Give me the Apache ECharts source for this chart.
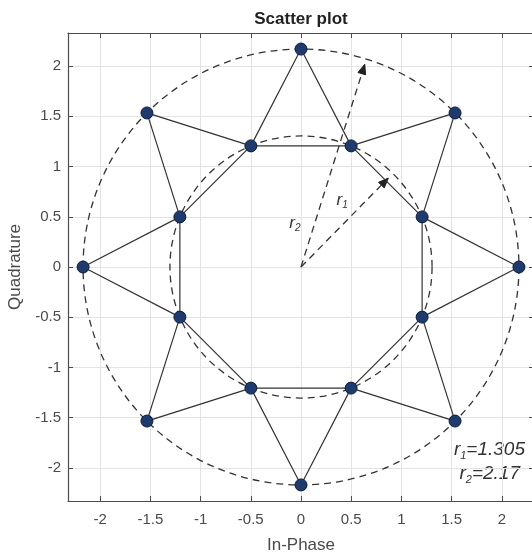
<!DOCTYPE html>
<html>
<head>
<meta charset="utf-8">
<script src="https://cdn.jsdelivr.net/npm/echarts@6/dist/echarts.min.js"></script>
<style>
  html, body { margin: 0; padding: 0; background: #fff; }
  #chart { width: 532px; height: 555px; }
</style>
</head>
<body>
<div id="chart"></div>
<script>
// 8+8 APSK constellation: outer ring points (0°, 45°, ...) and inner ring points (22.5°, 67.5°, ...)
const outerRing = [[2.17, 0], [1.534, 1.534], [0, 2.17], [-1.534, 1.534], [-2.17, 0], [-1.534, -1.534], [0, -2.17], [1.534, -1.534]];
const innerRing = [[1.206, 0.499], [0.499, 1.206], [-0.499, 1.206], [-1.206, 0.499], [-1.206, -0.499], [-0.499, -1.206], [0.499, -1.206], [1.206, -0.499]];
// ring radii r1, r2
const ringRadii = [1.305, 2.17];
// end points of the radius arrows (r1, r2)
const radiusArrows = [[0.87, 0.886], [0.635, 2.02]];
// positions of the r1 / r2 tags next to the arrows
const radiusTags = [[0.41, 0.66], [-0.06, 0.44]];
const xRange = [-2.32, 2.32];
const yRange = [-2.33, 2.33];

const FONT = '"Liberation Sans", Arial, Helvetica, sans-serif';
const AXIS_COLOR = '#4d4d4d';
const LABEL_COLOR = '#4a4a4a';
const GRID_COLOR = '#e3e3e3';

// star outline: outer, inner, outer, inner ... closed
const starPath = [];
for (let i = 0; i < outerRing.length; i++) {
  starPath.push(outerRing[i], innerRing[i]);
}
starPath.push(outerRing[0]);
const innerPath = innerRing.concat([innerRing[0]]);

const halfStep = v => Math.abs(v * 2 - Math.round(v * 2)) < 1e-6;
const tickFmt = v => halfStep(v) ? String(Math.round(v * 2) / 2) : '';

function mainAxis(range, name, isX) {
  return {
    type: 'value',
    min: range[0],
    max: range[1],
    splitNumber: 9,
    position: isX ? 'bottom' : 'left',
    name: name,
    nameLocation: 'middle',
    nameGap: isX ? 36 : 42,
    nameTextStyle: { fontFamily: FONT, fontSize: 17, color: LABEL_COLOR },
    axisLine: { show: true, onZero: false, lineStyle: { color: AXIS_COLOR, width: 1.2 } },
    axisTick: { show: true, inside: true, length: 5, lineStyle: { color: AXIS_COLOR } },
    axisLabel: { fontFamily: FONT, fontSize: 15, color: LABEL_COLOR, margin: isX ? 11 : 7, formatter: tickFmt },
    splitLine: { show: true, lineStyle: { color: GRID_COLOR, width: 1 } }
  };
}
function boxAxis(range, isX) {
  return {
    type: 'value',
    min: range[0],
    max: range[1],
    splitNumber: 9,
    position: isX ? 'top' : 'right',
    axisLine: { show: true, onZero: false, lineStyle: { color: AXIS_COLOR, width: 1.2 } },
    axisTick: { show: true, inside: true, length: 5, lineStyle: { color: AXIS_COLOR } },
    axisLabel: { show: false },
    splitLine: { show: false }
  };
}

const chart = echarts.init(document.getElementById('chart'), null, { renderer: 'canvas' });

const subRich = {
  r: { fontFamily: FONT, fontStyle: 'italic', fontSize: 19, lineHeight: 22, fill: '#333' },
  s: { fontFamily: FONT, fontStyle: 'italic', fontSize: 11, lineHeight: 12, verticalAlign: 'bottom', fill: '#333' }
};

chart.setOption({
  animation: false,
  backgroundColor: '#fff',
  grid: { left: 68, top: 33, width: 466, height: 468, containLabel: false, outerBoundsMode: 'none' },
  xAxis: [mainAxis(xRange, 'In-Phase', true), boxAxis(xRange, true)],
  yAxis: [mainAxis(yRange, 'Quadrature', false), boxAxis(yRange, false)],
  graphic: [
    {
      type: 'text', x: 301, y: 19,
      style: { text: 'Scatter plot', font: 'bold 17px ' + FONT, fill: '#222', align: 'center', verticalAlign: 'middle' }
    },
    {
      type: 'text', x: 525, y: 450,
      style: { text: '{r|r}{s|1}{r|=' + ringRadii[0] + '}', rich: subRich, align: 'right', verticalAlign: 'middle' }
    },
    {
      type: 'text', x: 520, y: 474,
      style: { text: '{r|r}{s|2}{r|=' + ringRadii[1] + '}', rich: subRich, align: 'right', verticalAlign: 'middle' }
    }
  ],
  series: [
    {
      // dashed reference circles of radius r1 and r2
      type: 'custom',
      silent: true,
      z: 1,
      data: ringRadii.map(r => [0, 0, r]),
      encode: { x: 0, y: 1 },
      renderItem: (params, api) => {
        const c = api.coord([api.value(0), api.value(1)]);
        const r = api.size([api.value(2), 0])[0];
        return {
          type: 'circle',
          shape: { cx: c[0], cy: c[1], r: r },
          style: { fill: 'none', stroke: '#333', lineWidth: 1.3, lineDash: [7, 5] }
        };
      }
    },
    {
      // dashed radius arrows
      type: 'custom',
      silent: true,
      z: 1,
      data: radiusArrows,
      renderItem: (params, api) => {
        const o = api.coord([0, 0]);
        const e = api.coord([api.value(0), api.value(1)]);
        const dx = e[0] - o[0], dy = e[1] - o[1];
        const L = Math.hypot(dx, dy);
        const ux = dx / L, uy = dy / L;
        const hl = 10, hw = 4;
        const bx = e[0] - ux * hl, by = e[1] - uy * hl;
        return {
          type: 'group',
          children: [
            { type: 'line', shape: { x1: o[0], y1: o[1], x2: bx, y2: by },
              style: { stroke: '#333', lineWidth: 1.3, lineDash: [7, 5] } },
            { type: 'polygon', shape: { points: [[e[0], e[1]], [bx - uy * hw, by + ux * hw], [bx + uy * hw, by - ux * hw]] },
              style: { fill: '#222', stroke: '#222', lineWidth: 1 } }
          ]
        };
      }
    },
    {
      // r1 / r2 tags
      type: 'custom',
      silent: true,
      z: 1,
      data: radiusTags,
      renderItem: (params, api) => {
        const c = api.coord([api.value(0), api.value(1)]);
        return {
          type: 'text',
          x: c[0], y: c[1],
          style: {
            text: '{r|r}{s|' + (params.dataIndex + 1) + '}',
            rich: {
              r: { fontFamily: FONT, fontStyle: 'italic', fontSize: 17, lineHeight: 20, fill: '#333' },
              s: { fontFamily: FONT, fontStyle: 'italic', fontSize: 10, lineHeight: 11, verticalAlign: 'bottom', fill: '#333' }
            },
            align: 'center', verticalAlign: 'middle'
          }
        };
      }
    },
    {
      type: 'line',
      data: starPath,
      showSymbol: false,
      silent: true,
      z: 2,
      lineStyle: { color: '#333', width: 1.2 }
    },
    {
      type: 'line',
      data: innerPath,
      showSymbol: false,
      silent: true,
      z: 2,
      lineStyle: { color: '#333', width: 1.2 }
    },
    {
      type: 'scatter',
      data: outerRing.concat(innerRing),
      symbol: 'circle',
      symbolSize: 12,
      z: 3,
      itemStyle: { color: '#1f3b6e', borderColor: '#0d1c38', borderWidth: 1, opacity: 1 }
    }
  ]
});
</script>
</body>
</html>
